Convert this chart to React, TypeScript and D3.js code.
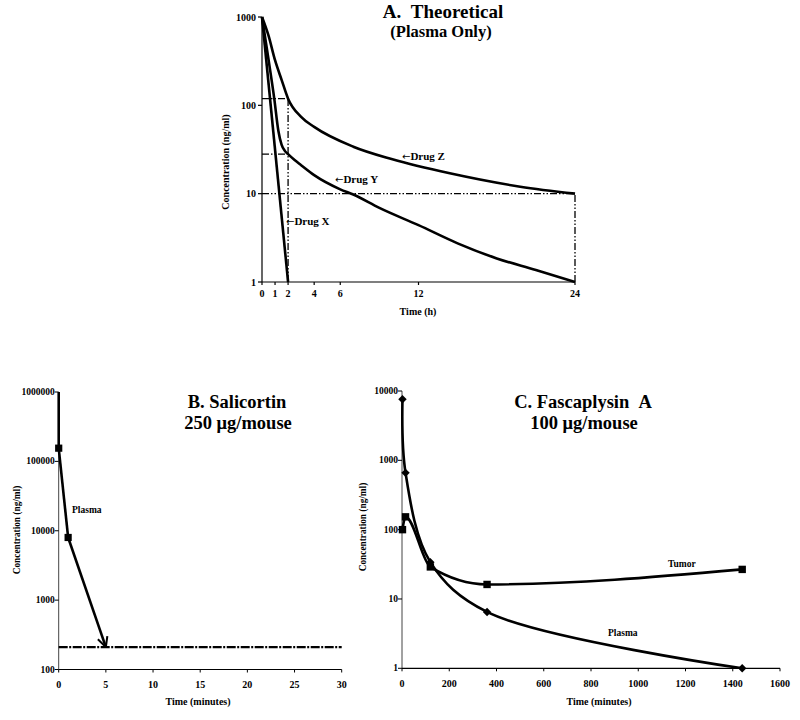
import React from "react";
import * as d3 from "d3";

// ---------- Panel A data ----------
const A_X_TICKS = [0, 1, 2, 4, 6, 12, 24];
const A_Y_TICKS = [1, 10, 100, 1000];
const DRUG_X_T = [0, 2];
const DRUG_X_C = [1000, 1];
const DRUG_Y_T = [0, 0.5, 0.94, 1.25, 1.5, 1.75, 2, 2.5, 3, 4, 6, 7, 9, 12, 15, 18, 21, 24];
const DRUG_Y_C = [1000, 330, 119, 52, 36, 30.5, 28, 24, 21, 16.2, 11.2, 9.8, 6.9, 4.4, 2.74, 1.85, 1.37, 1];
const DRUG_Z_T = [0, 0.49, 1, 1.51, 2, 3, 4, 7, 10, 14.4, 19.8, 24];
const DRUG_Z_C = [1000, 622, 324, 193, 119, 74, 57, 34, 24.5, 17, 12, 10];
// reference guide levels
const A_GUIDE_Z_AT2 = 119;
const A_GUIDE_Y_AT2 = 28;
const A_GUIDE_10 = 10;

// ---------- Panel B data ----------
const B_X_TICKS = [0, 5, 10, 15, 20, 25, 30];
const B_Y_TICKS = [100, 1000, 10000, 100000, 1000000];
const B_PLASMA_T = [0, 1];
const B_PLASMA_C = [155000, 8000];
const B_ARROW_END_T = 5;
const B_LIMIT_C = 210;

// ---------- Panel C data ----------
const C_X_TICKS = [0, 200, 400, 600, 800, 1000, 1200, 1400, 1600];
const C_Y_TICKS = [1, 10, 100, 1000, 10000];
const C_PLASMA_T = [2, 15, 120, 360, 1440];
const C_PLASMA_C = [7600, 660, 34, 6.5, 1];
const C_TUMOR_T = [2, 15, 120, 360, 1440];
const C_TUMOR_C = [100, 153, 29, 16.2, 26.7];

const FONT = "'Liberation Serif', 'Times New Roman', serif";

export default function App() {
  const ax = d3.scaleLinear().domain([0, 24]).range([262, 575]);
  const ay = d3.scaleLog().domain([1, 1000]).range([282, 17]);
  const bx = d3.scaleLinear().domain([0, 30]).range([58.7, 341.7]);
  const by = d3.scaleLog().domain([100, 1000000]).range([669.5, 392]);
  const cx = d3.scaleLinear().domain([0, 1600]).range([402, 780]);
  const cy = d3.scaleLog().domain([1, 10000]).range([668.3, 391]);

  const zip = (t: number[], c: number[]) => t.map((v, i) => [v, c[i]] as [number, number]);

  const lineA = (curve: any) =>
    d3.line<[number, number]>().x((d) => ax(d[0])).y((d) => ay(d[1])).curve(curve);
  const lineC = (curve: any) =>
    d3.line<[number, number]>().x((d) => cx(d[0])).y((d) => cy(d[1])).curve(curve);

  const dashDot = "7,2,1.5,2,1.5,2";
  const tickText = { fontFamily: FONT, fontWeight: 700 as const, fill: "#000" };

  const bPts = zip(B_PLASMA_T, B_PLASMA_C);
  const cPlasma = zip(C_PLASMA_T, C_PLASMA_C);
  const cTumor = zip(C_TUMOR_T, C_TUMOR_C);

  const arrowSpan = (
    <tspan style={{ fontWeight: 400, fontFamily: "'DejaVu Sans', sans-serif", fontSize: 10 }}>←</tspan>
  );

  return (
    <svg width={800} height={720} style={{ position: "absolute", left: 0, top: 0, background: "#fff" }}>
      <defs>
        <marker
          id="openArrow"
          viewBox="0 0 12 12"
          refX="11"
          refY="6"
          markerWidth="12"
          markerHeight="12"
          markerUnits="userSpaceOnUse"
          orient="auto"
        >
          <path d="M1,1 L11,6 L1,11" fill="none" stroke="#000" strokeWidth="2" />
        </marker>
      </defs>
      <rect x={0} y={0} width={800} height={720} fill="#fff" />

      {/* ================= Panel A ================= */}
      <g>
        <text x={443} y={18} textAnchor="middle" style={{ ...tickText, fontSize: 19 }}>
          {"A.\u00A0\u00A0Theoretical"}
        </text>
        <text x={441} y={37} textAnchor="middle" style={{ ...tickText, fontSize: 16.5 }}>
          (Plasma Only)
        </text>
        <line x1={ax(0)} x2={ax(0)} y1={ay(1000)} y2={ay(1)} stroke="#000" strokeWidth={1.2} />
        <line x1={ax(0)} x2={ax(24)} y1={ay(1)} y2={ay(1)} stroke="#000" strokeWidth={1.2} />
        {A_Y_TICKS.map((t) => (
          <g key={"ay" + t}>
            <line x1={ax(0) - 4} x2={ax(0)} y1={ay(t)} y2={ay(t)} stroke="#000" strokeWidth={1.2} />
            <text x={ax(0) - 6} y={ay(t) + 3.5} textAnchor="end" style={{ ...tickText, fontSize: 10 }}>
              {t}
            </text>
          </g>
        ))}
        {A_X_TICKS.map((t) => (
          <g key={"ax" + t}>
            <line x1={ax(t)} x2={ax(t)} y1={ay(1)} y2={ay(1) + 3} stroke="#000" strokeWidth={1.2} />
            <text x={ax(t)} y={297} textAnchor="middle" style={{ ...tickText, fontSize: 10 }}>
              {t}
            </text>
          </g>
        ))}
        <text transform={`translate(229,162) rotate(-90)`} textAnchor="middle" style={{ ...tickText, fontSize: 10 }}>
          Concentration (ng/ml)
        </text>
        <text x={418} y={315} textAnchor="middle" style={{ ...tickText, fontSize: 10 }}>
          Time (h)
        </text>
        <g fill="none" stroke="#000" strokeWidth={1.3} strokeDasharray={dashDot}>
          <line x1={ax(0)} x2={ax(2)} y1={ay(A_GUIDE_Z_AT2)} y2={ay(A_GUIDE_Z_AT2)} />
          <line x1={ax(0)} x2={ax(2)} y1={ay(A_GUIDE_Y_AT2)} y2={ay(A_GUIDE_Y_AT2)} />
          <line x1={ax(2)} x2={ax(2)} y1={ay(1)} y2={ay(A_GUIDE_Z_AT2)} />
          <line x1={ax(0)} x2={ax(24)} y1={ay(A_GUIDE_10)} y2={ay(A_GUIDE_10)} />
          <line x1={ax(24)} x2={ax(24)} y1={ay(1)} y2={ay(A_GUIDE_10)} />
        </g>
        <g fill="none" stroke="#000" strokeWidth={2.6}>
          <path d={lineA(d3.curveLinear)(zip(DRUG_X_T, DRUG_X_C)) || ""} />
          <path d={lineA(d3.curveMonotoneX)(zip(DRUG_Y_T, DRUG_Y_C)) || ""} />
          <path d={lineA(d3.curveMonotoneX)(zip(DRUG_Z_T, DRUG_Z_C)) || ""} />
        </g>
        <text x={402} y={160} style={{ ...tickText, fontSize: 11 }}>
          {arrowSpan}Drug Z
        </text>
        <text x={335} y={183} style={{ ...tickText, fontSize: 11 }}>
          {arrowSpan}Drug Y
        </text>
        <text x={286} y={225} style={{ ...tickText, fontSize: 11 }}>
          {arrowSpan}Drug X
        </text>
      </g>

      {/* ================= Panel B ================= */}
      <g>
        <text x={237} y={408} textAnchor="middle" style={{ ...tickText, fontSize: 18.5 }}>
          B. Salicortin
        </text>
        <text x={238} y={429} textAnchor="middle" style={{ ...tickText, fontSize: 18.5 }}>
          250 μg/mouse
        </text>
        <line x1={bx(0)} x2={bx(0)} y1={by(1e6)} y2={by(100)} stroke="#444" strokeWidth={1} />
        <line x1={bx(0)} x2={bx(30)} y1={by(100)} y2={by(100)} stroke="#000" strokeWidth={1.2} />
        {B_Y_TICKS.map((t) => (
          <g key={"by" + t}>
            <line x1={bx(0) - 4} x2={bx(0)} y1={by(t)} y2={by(t)} stroke="#000" strokeWidth={1} />
            <text x={bx(0) - 4} y={by(t) + 3} textAnchor="end" style={{ ...tickText, fontSize: 9.5 }}>
              {t}
            </text>
          </g>
        ))}
        {B_X_TICKS.map((t) => (
          <g key={"bx" + t}>
            <line x1={bx(t)} x2={bx(t)} y1={by(100)} y2={by(100) + 3} stroke="#000" strokeWidth={1} />
            <text x={bx(t)} y={688} textAnchor="middle" style={{ ...tickText, fontSize: 10 }}>
              {t}
            </text>
          </g>
        ))}
        <text transform={`translate(20,530) rotate(-90)`} textAnchor="middle" style={{ ...tickText, fontSize: 9.3 }}>
          Concentration (ng/ml)
        </text>
        <text x={198} y={705} textAnchor="middle" style={{ ...tickText, fontSize: 10 }}>
          Time (minutes)
        </text>
        <line
          x1={bx(0)}
          x2={bx(30)}
          y1={by(B_LIMIT_C)}
          y2={by(B_LIMIT_C)}
          stroke="#000"
          strokeWidth={2.4}
          strokeDasharray="9,1.5,2,1.5"
        />
        <line x1={bx(0)} x2={bx(0)} y1={by(1e6)} y2={by(B_PLASMA_C[0])} stroke="#000" strokeWidth={2.6} />
        <path
          d={d3.line<[number, number]>().x((d) => bx(d[0])).y((d) => by(d[1]))(bPts) || ""}
          fill="none"
          stroke="#000"
          strokeWidth={2.6}
        />
        <line
          x1={bx(B_PLASMA_T[1])}
          y1={by(B_PLASMA_C[1])}
          x2={bx(B_ARROW_END_T)}
          y2={by(B_LIMIT_C)}
          stroke="#000"
          strokeWidth={2.6}
          markerEnd="url(#openArrow)"
        />
        {bPts.map((d, i) => (
          <rect key={"bs" + i} x={bx(d[0]) - 3.6} y={by(d[1]) - 3.6} width={7.2} height={7.2} fill="#000" />
        ))}
        <text x={72} y={513} style={{ ...tickText, fontSize: 9.5 }}>
          Plasma
        </text>
      </g>

      {/* ================= Panel C ================= */}
      <g>
        <text x={583} y={408} textAnchor="middle" style={{ ...tickText, fontSize: 18.5 }}>
          {"C. Fascaplysin\u00A0\u00A0A"}
        </text>
        <text x={584} y={429} textAnchor="middle" style={{ ...tickText, fontSize: 18.5 }}>
          100 μg/mouse
        </text>
        <line x1={cx(0)} x2={cx(0)} y1={cy(10000)} y2={cy(1)} stroke="#444" strokeWidth={1} />
        <line x1={cx(0)} x2={cx(1600)} y1={cy(1)} y2={cy(1)} stroke="#000" strokeWidth={1.2} />
        {C_Y_TICKS.map((t) => (
          <g key={"cy" + t}>
            <line x1={cx(0) - 4} x2={cx(0)} y1={cy(t)} y2={cy(t)} stroke="#000" strokeWidth={1} />
            <text x={cx(0) - 4} y={cy(t) + 3} textAnchor="end" style={{ ...tickText, fontSize: 9.5 }}>
              {t}
            </text>
          </g>
        ))}
        {C_X_TICKS.map((t) => (
          <g key={"cx" + t}>
            <line x1={cx(t)} x2={cx(t)} y1={cy(1)} y2={cy(1) + 3} stroke="#000" strokeWidth={1} />
            <text x={cx(t)} y={687} textAnchor="middle" style={{ ...tickText, fontSize: 10 }}>
              {t}
            </text>
          </g>
        ))}
        <text transform={`translate(366,527) rotate(-90)`} textAnchor="middle" style={{ ...tickText, fontSize: 9.3 }}>
          Concentration (ng/ml)
        </text>
        <text x={599} y={705} textAnchor="middle" style={{ ...tickText, fontSize: 10 }}>
          Time (minutes)
        </text>
        <g fill="none" stroke="#000" strokeWidth={2.6}>
          <path d={lineC(d3.curveCatmullRom.alpha(0.5))(cPlasma) || ""} />
          <path d={lineC(d3.curveMonotoneX)(cTumor) || ""} />
        </g>
        {cPlasma.map((d, i) => (
          <path
            key={"cp" + i}
            d={`M${cx(d[0])},${cy(d[1]) - 4.2}L${cx(d[0]) + 4.2},${cy(d[1])}L${cx(d[0])},${cy(d[1]) + 4.2}L${cx(d[0]) - 4.2},${cy(d[1])}Z`}
            fill="#000"
          />
        ))}
        {cTumor.map((d, i) => (
          <rect key={"ct" + i} x={cx(d[0]) - 3.7} y={cy(d[1]) - 3.7} width={7.4} height={7.4} fill="#000" />
        ))}
        <text x={668} y={567} style={{ ...tickText, fontSize: 9.5 }}>
          Tumor
        </text>
        <text x={608} y={636} style={{ ...tickText, fontSize: 9.5 }}>
          Plasma
        </text>
      </g>
    </svg>
  );
}
